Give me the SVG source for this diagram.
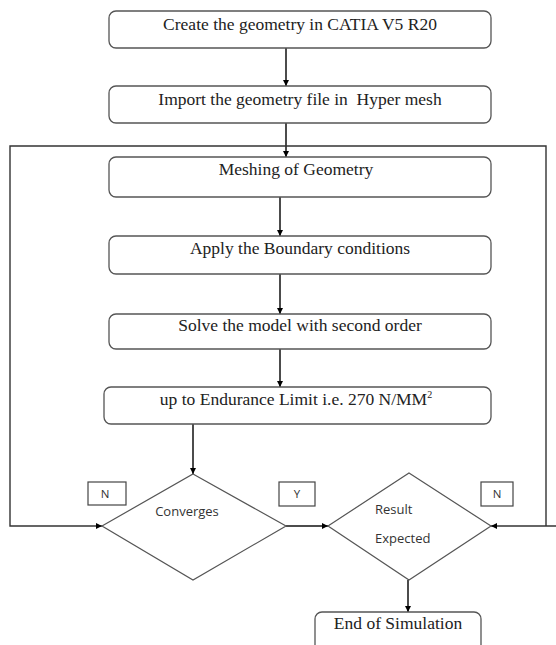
<svg xmlns="http://www.w3.org/2000/svg" width="556" height="645" viewBox="0 0 556 645">
<defs>
<style>
.box{fill:#fff;stroke:#555;stroke-width:1.3}
.dia{fill:#fff;stroke:#555;stroke-width:1.2}
.lbl{fill:#fff;stroke:#444;stroke-width:1.2}
.t{font-family:"Liberation Serif","Times New Roman",serif;font-size:17.5px;fill:#222;text-anchor:middle}
.s{font-family:"Open Sans","Noto Sans",sans-serif;font-size:13px;fill:#333}
.yn{font-family:"Open Sans","Noto Sans",sans-serif;font-size:11.5px;fill:#333;text-anchor:middle}
.c{fill:none;stroke:#111;stroke-width:1.5}
.loop{fill:none;stroke:#333;stroke-width:1.4}
</style>
<marker id="ah" viewBox="0 0 10 10" refX="10" refY="5" markerWidth="6" markerHeight="6" markerUnits="userSpaceOnUse" orient="auto">
<path d="M0,0 L10,5 L0,10 z" fill="#000"/>
</marker>
</defs>
<rect width="556" height="645" fill="#fff"/>

<g id="connectors">
<path class="c" d="M286,48 V86" marker-end="url(#ah)"/>
<path class="c" d="M286,123 V157" marker-end="url(#ah)"/>
<path class="c" d="M280,197 V236" marker-end="url(#ah)"/>
<path class="c" d="M280,274 V314" marker-end="url(#ah)"/>
<path class="c" d="M280,349 V387" marker-end="url(#ah)"/>
<path class="c" d="M193,424 V474" marker-end="url(#ah)"/>
<path class="c" d="M286,526 H328" marker-end="url(#ah)"/>
<path class="loop" d="M546,526 V146 H10 V526 H102" marker-end="url(#ah)"/>
<path class="loop" d="M556,526 H491" marker-end="url(#ah)"/>
<path class="c" d="M408,580 V612" marker-end="url(#ah)"/>
</g>

<g id="n1"><rect class="box" x="109" y="11" width="382" height="37" rx="7"/><text class="t" x="300" y="30">Create the geometry in CATIA V5 R20</text></g>
<g id="n2"><rect class="box" x="109" y="86" width="382" height="37" rx="7"/><text class="t" x="300" y="105" xml:space="preserve">Import the geometry file in  Hyper mesh</text></g>
<g id="n3"><rect class="box" x="109" y="157" width="382" height="40" rx="7"/><text class="t" x="296" y="175">Meshing of Geometry</text></g>
<g id="n4"><rect class="box" x="109" y="236" width="382" height="38" rx="7"/><text class="t" x="300" y="254">Apply the Boundary conditions</text></g>
<g id="n5"><rect class="box" x="109" y="314" width="382" height="35" rx="7"/><text class="t" x="300" y="331">Solve the model with second order</text></g>
<g id="n6"><rect class="box" x="104" y="387" width="387" height="37" rx="7"/><text class="t" x="296" y="405">up to Endurance Limit i.e. 270 N/MM<tspan font-size="10" dy="-7">2</tspan></text></g>
<g id="n7"><polygon class="dia" points="193,474 286,526 193,580 102,526"/><text class="s" x="187" y="516" text-anchor="middle">Converges</text></g>
<g id="n8"><polygon class="dia" points="409,473 491,526 409,580 328,526"/><text class="s" x="375" y="514">Result</text><text class="s" x="375" y="543">Expected</text></g>
<g id="n9"><rect class="box" x="315" y="612" width="166" height="45" rx="7"/><text class="t" x="398" y="629">End of Simulation</text></g>
<g id="lblN1"><rect class="lbl" x="88" y="482" width="38" height="23"/><text class="yn" x="105" y="498">N</text></g>
<g id="lblY"><rect class="lbl" x="279" y="482" width="36" height="24"/><text class="yn" x="297" y="498">Y</text></g>
<g id="lblN2"><rect class="lbl" x="481" y="482" width="32" height="24"/><text class="yn" x="497" y="498">N</text></g>
</svg>
